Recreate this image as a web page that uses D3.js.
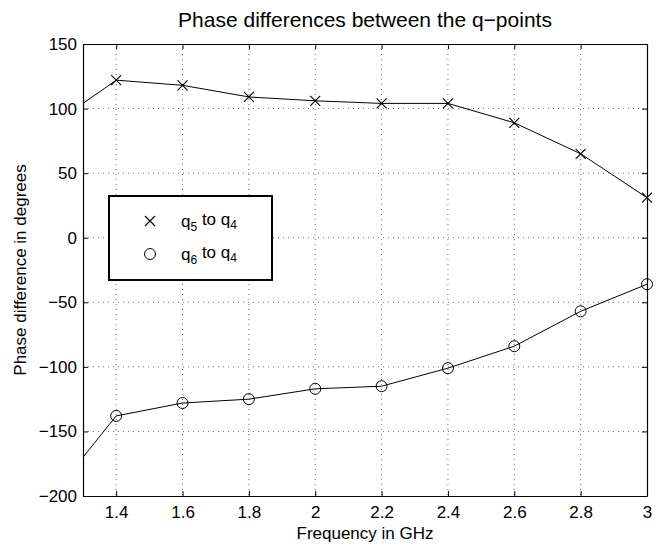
<!DOCTYPE html>
<meta charset="utf-8">
<style>
body { margin: 0; background: #fff; }
svg text { font-family: 'Liberation Sans', Arial, Helvetica, sans-serif; fill: #000; }
.grid line { stroke: #000; stroke-width: 0.8; stroke-dasharray: 1 4; opacity: 0.7; }
.series { fill: none; stroke: #000; stroke-width: 1; }
</style>
<svg id="svg" width="664" height="546"></svg>
<script src="https://cdn.jsdelivr.net/npm/d3@7"></script>
<script>

// frequencies (GHz); first entry is where the lines enter at the left edge
let freqs = [1.3, 1.4, 1.6, 1.8, 2.0, 2.2, 2.4, 2.6, 2.8, 3.0]
let q5toq4 = [104, 122, 118, 109, 106, 104, 104, 89, 65, 31]
let q6toq4 = [-170, -138, -128, -125, -117, -115, -101, -84, -57, -36]
let markerFrom = 1.4

let xTicks = [1.4, 1.6, 1.8, 2, 2.2, 2.4, 2.6, 2.8, 3]
let yTicks = [150, 100, 50, 0, -50, -100, -150, -200]

let seriesNames = ['q5 to q4', 'q6 to q4']

let margin = {top: 44, right: 17, bottom: 50, left: 83},
    width = 664 - margin.left - margin.right,
    height = 546 - margin.top - margin.bottom

let svg = d3.select('#svg')
let g = svg.append('g').attr('transform', translate(margin.left, margin.top))

let x = d3.scaleLinear().domain([1.3, 3]).range([0, width])
let y = d3.scaleLinear().domain([-200, 150]).range([height, 0])

function translate(a, b) {
    return 'translate(' + a + ',' + b + ')'
}

// grid
let grid = g.append('g').attr('class', 'grid')
grid.selectAll('.gx')
    .data(xTicks.filter(d => d < 3))
    .enter().append('line')
    .attr('x1', d => x(d)).attr('x2', d => x(d))
    .attr('y1', 0).attr('y2', height)
grid.selectAll('.gy')
    .data(yTicks.filter(d => d > -200 && d < 150))
    .enter().append('line')
    .attr('y1', d => y(d)).attr('y2', d => y(d))
    .attr('x1', 0).attr('x2', width)

// axes, ticks pointing in
let fmt = d3.format('')
g.append('g').attr('transform', translate(0, height))
    .call(d3.axisBottom(x).tickValues(xTicks).tickSizeInner(-5).tickSizeOuter(0).tickPadding(10).tickFormat(fmt))
g.append('g')
    .call(d3.axisTop(x).tickValues(xTicks).tickSizeInner(-5).tickSizeOuter(0).tickFormat(''))
g.append('g')
    .call(d3.axisLeft(y).tickValues(yTicks).tickSizeInner(-5).tickSizeOuter(0).tickPadding(6).tickFormat(fmt))
g.append('g').attr('transform', translate(width, 0))
    .call(d3.axisRight(y).tickValues(yTicks).tickSizeInner(-5).tickSizeOuter(0).tickFormat(''))

g.selectAll('.domain').attr('stroke', '#000').attr('stroke-width', 1.2)
g.selectAll('.tick line').attr('stroke', '#000')
g.selectAll('.tick text').style('font-size', '17px')

// lines
let line = d3.line()
    .x((d, i) => x(freqs[i]))
    .y(d => y(d))

g.append('path').attr('class', 'series').attr('d', line(q5toq4))
g.append('path').attr('class', 'series').attr('d', line(q6toq4))

function cross(sel, s) {
    sel.append('path')
        .attr('d', 'M' + (-s) + ',' + (-s) + 'L' + s + ',' + s + 'M' + (-s) + ',' + s + 'L' + s + ',' + (-s))
        .attr('stroke', '#000').attr('stroke-width', 1.1).attr('fill', 'none')
}

let pts5 = freqs.map((f, i) => ({f: f, v: q5toq4[i]})).filter(d => d.f >= markerFrom)
let pts6 = freqs.map((f, i) => ({f: f, v: q6toq4[i]})).filter(d => d.f >= markerFrom)

g.selectAll('.m5')
    .data(pts5)
    .enter().append('g')
    .attr('transform', d => translate(x(d.f), y(d.v)))
    .each(function() { cross(d3.select(this), 5) })

g.selectAll('.m6')
    .data(pts6)
    .enter().append('circle')
    .attr('cx', d => x(d.f)).attr('cy', d => y(d.v))
    .attr('r', 5.5)
    .attr('fill', 'none').attr('stroke', '#000').attr('stroke-width', 1)

// legend
let legend = svg.append('g').attr('transform', translate(109, 196))
legend.append('rect')
    .attr('width', 163).attr('height', 84)
    .attr('fill', '#fff').attr('stroke', '#000').attr('stroke-width', 1.2)
    .attr('shape-rendering', 'crispEdges')

let rows = legend.selectAll('.row')
    .data(seriesNames)
    .enter().append('g')
    .attr('transform', (d, i) => translate(0, 25 + i * 33))

rows.filter((d, i) => i === 0).each(function() { cross(d3.select(this), 5) })
rows.select('path').attr('transform', translate(41, 0))
rows.filter((d, i) => i === 1).append('circle')
    .attr('cx', 41).attr('r', 5.5)
    .attr('fill', 'none').attr('stroke', '#000')

rows.append('text')
    .attr('x', 72).attr('dy', '0.35em')
    .style('font-size', '17px')
    .each(function(d) {
        let parts = d.split(' ')
        let t = d3.select(this)
        t.append('tspan').text('q')
        t.append('tspan').text(parts[0].slice(1)).attr('dy', '0.3em').style('font-size', '12px')
        t.append('tspan').text(' to q').attr('dy', '-0.3em')
        t.append('tspan').text(parts[2].slice(1)).attr('dy', '0.3em').style('font-size', '12px')
    })

// title and axis labels
svg.append('text')
    .attr('x', margin.left + width / 2).attr('y', 27)
    .attr('text-anchor', 'middle')
    .style('font-size', '21px')
    .text('Phase differences between the q−points')

svg.append('text')
    .attr('x', margin.left + width / 2).attr('y', 539)
    .attr('text-anchor', 'middle')
    .style('font-size', '17px')
    .text('Frequency in GHz')

svg.append('text')
    .attr('transform', translate(26, margin.top + height / 2) + ' rotate(-90)')
    .attr('text-anchor', 'middle')
    .style('font-size', '17px')
    .text('Phase difference in degrees')

</script>
